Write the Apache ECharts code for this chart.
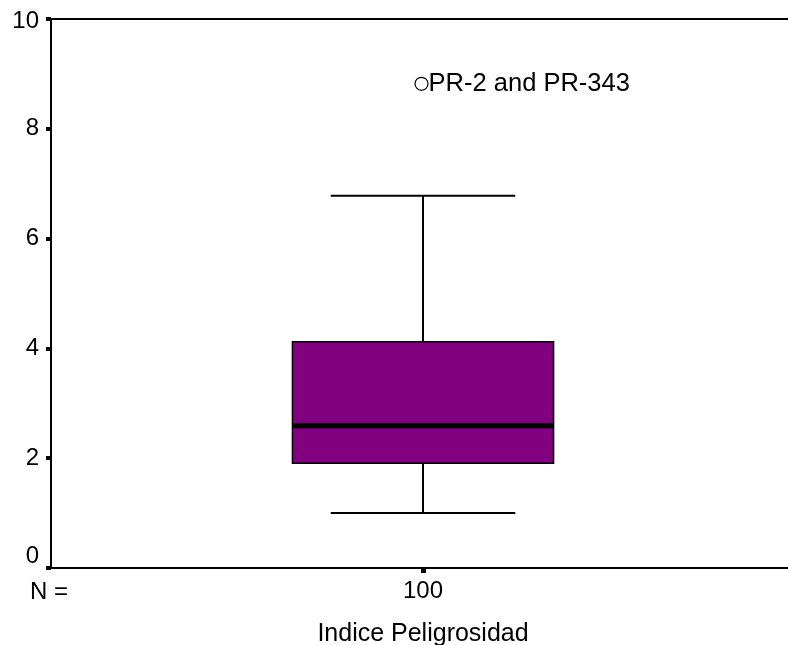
<!DOCTYPE html>
<html>
<head>
<meta charset="utf-8">
<script src="https://cdn.jsdelivr.net/npm/echarts@6/dist/echarts.min.js"></script>
<style>html,body{margin:0;padding:0;background:#fff;}#c{width:788px;height:645px;}</style>
</head>
<body>
<div id="c"></div>
<script>
var categories = ['100'];
var boxStats = [[0, 1.0, 1.91, 2.59, 4.12, 6.78]]; // [cat, min, q1, median, q3, max]
var outliers = [[0, 8.82]];
var outlierLabels = ['PR-2 and PR-343'];
var yTicks = {min: 0, max: 10, interval: 2};
var xAxisName = 'Indice Peligrosidad';
var nLabel = 'N =';

var FONT = "'Liberation Sans', Arial, sans-serif";
var chart = echarts.init(document.getElementById('c'));

function renderBox(params, api) {
  var x = api.value(0);
  var pMin = api.coord([x, api.value(1)]);
  var pQ1 = api.coord([x, api.value(2)]);
  var pMed = api.coord([x, api.value(3)]);
  var pQ3 = api.coord([x, api.value(4)]);
  var pMax = api.coord([x, api.value(5)]);
  var band = api.size([1, 0])[0];
  var half = band * 0.1755;
  var capHalf = band * 0.124;
  var cx = pMed[0];
  var lw = {stroke: '#000', lineWidth: 2};
  return {
    type: 'group',
    children: [
      {type: 'line', shape: {x1: cx, y1: pMax[1], x2: cx, y2: pQ3[1]}, style: lw},
      {type: 'line', shape: {x1: cx, y1: pQ1[1], x2: cx, y2: pMin[1]}, style: lw},
      {type: 'line', shape: {x1: cx - capHalf, y1: pMax[1], x2: cx + capHalf, y2: pMax[1]}, style: lw},
      {type: 'line', shape: {x1: cx - capHalf, y1: pMin[1], x2: cx + capHalf, y2: pMin[1]}, style: lw},
      {type: 'rect', shape: {x: cx - half, y: pQ3[1], width: half * 2, height: pQ1[1] - pQ3[1]},
        style: {fill: '#800080', stroke: '#000', lineWidth: 1.5}},
      {type: 'line', shape: {x1: cx - half, y1: pMed[1], x2: cx + half, y2: pMed[1]},
        style: {stroke: '#000', lineWidth: 5}}
    ]
  };
}

chart.setOption({
  animation: false,
  backgroundColor: '#fff',
  grid: {left: 51, top: 19, width: 744, height: 549, outerBoundsMode: 'none', containLabel: false, show: false},
  xAxis: [{
    type: 'category',
    data: categories,
    name: xAxisName,
    nameLocation: 'middle',
    nameGap: 54,
    nameTextStyle: {color: '#000', fontSize: 25, fontFamily: FONT},
    axisLine: {lineStyle: {color: '#000', width: 2}},
    axisTick: {show: true, alignWithLabel: true, length: 5, lineStyle: {color: '#000', width: 5}},
    axisLabel: {color: '#000', fontSize: 24, fontFamily: FONT, margin: 11},
    splitLine: {show: false}
  }, {
    type: 'category',
    data: categories,
    position: 'top',
    axisLine: {show: true, lineStyle: {color: '#000', width: 2}},
    axisTick: {show: false},
    axisLabel: {show: false},
    splitLine: {show: false}
  }],
  yAxis: {
    type: 'value',
    min: yTicks.min, max: yTicks.max, interval: yTicks.interval,
    axisLine: {show: true, lineStyle: {color: '#000', width: 2}},
    axisTick: {show: true, length: 5, lineStyle: {color: '#000', width: 4}},
    axisLabel: {color: '#000', fontSize: 24, fontFamily: FONT, margin: 12,
      formatter: function (v) {
        if (v === yTicks.min) return '{z|' + v + '}';
        if (v === yTicks.max) return '{t|' + v + '}';
        return '{n|' + v + '}';
      },
      rich: {
        z: {fontSize: 24, fontFamily: FONT, color: '#000', padding: [0, 0, 24, 0]},
        t: {fontSize: 24, fontFamily: FONT, color: '#000', padding: [4, 0, 0, 0]},
        n: {fontSize: 24, fontFamily: FONT, color: '#000'}
      }
    },
    splitLine: {show: false}
  },
  graphic: [{
    type: 'text', left: 30, top: 580,
    style: {text: nLabel, fill: '#000', font: '24px ' + FONT}
  }],
  series: [
    {type: 'custom', renderItem: renderBox, data: boxStats, encode: {x: 0, y: [1, 2, 3, 4, 5]}, z: 2},
    {
      type: 'scatter', data: outliers, symbol: 'circle', symbolSize: 13, symbolOffset: [-1.5, 0],
      itemStyle: {color: '#fff', borderColor: '#000', borderWidth: 1.2, opacity: 1},
      label: {show: true, position: 'right', distance: 0, color: '#000', fontSize: 25.5, fontFamily: FONT,
        formatter: function (p) { return outlierLabels[p.dataIndex]; }},
      emphasis: {disabled: true},
      z: 3
    }
  ]
});
</script>
</body>
</html>
